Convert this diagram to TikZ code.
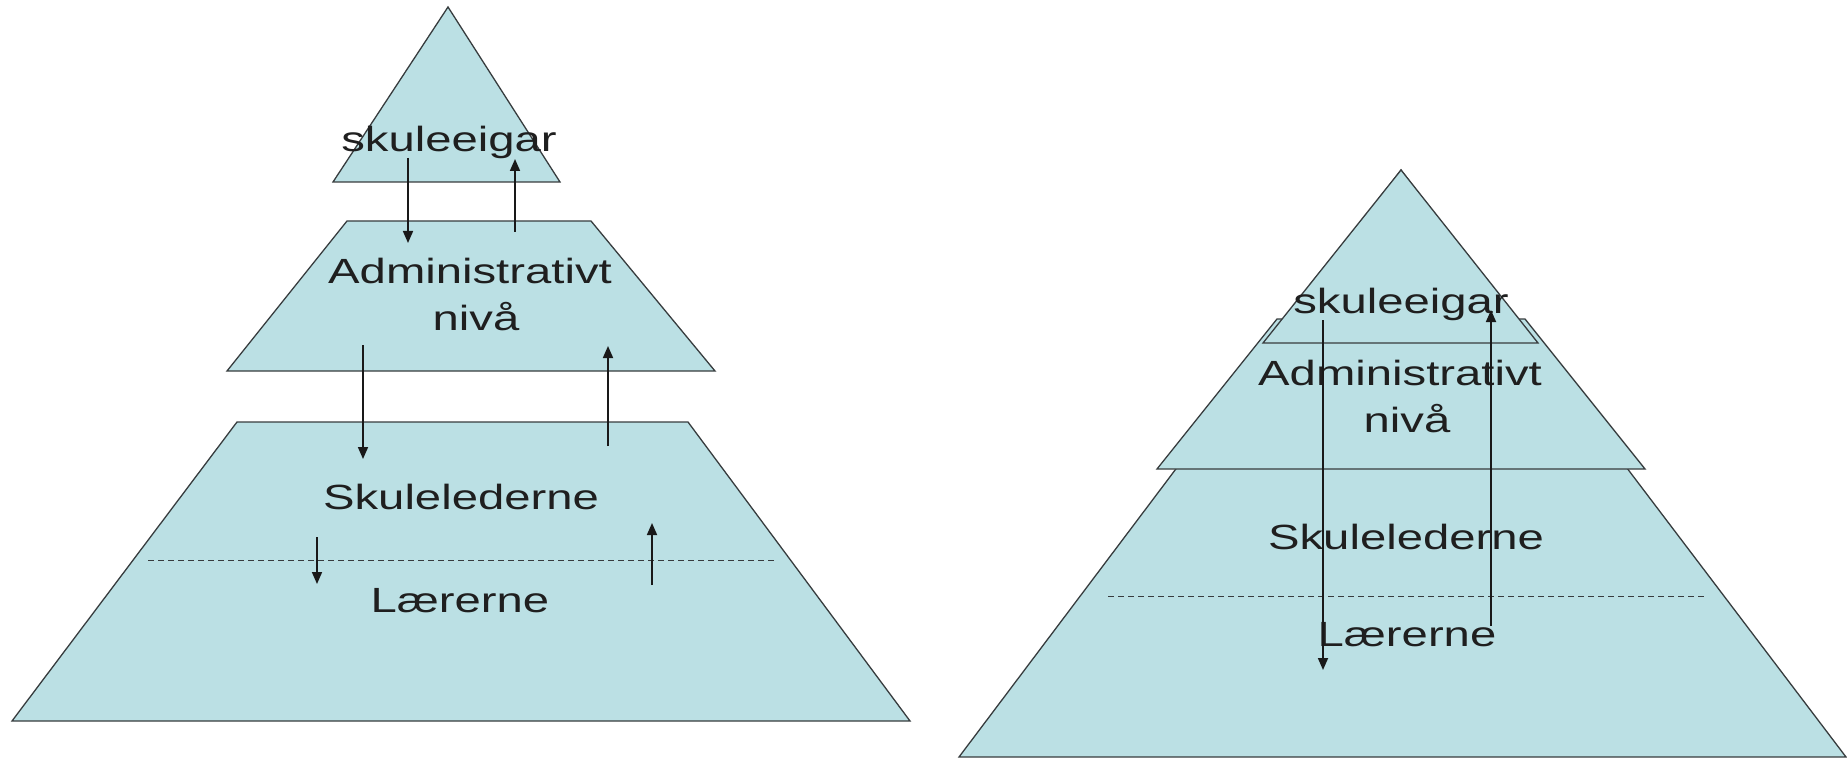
\documentclass[tikz,border=0pt]{standalone}
\usepackage{fontspec}
\setmainfont{Liberation Sans}
\newfontfamily\lbfont[FakeStretch=1.35]{Liberation Sans}
\usetikzlibrary{arrows.meta}
\definecolor{pyr}{RGB}{187,224,228}
\definecolor{edge}{RGB}{55,60,62}
\tikzset{
  pyrshape/.style={fill=pyr, draw=edge, line width=1.3pt, line join=miter},
  lbl/.style={font=\lbfont\fontsize{35}{47}\selectfont, anchor=base, inner sep=0pt, text=black!88},
  arr/.style={line width=1.7pt, draw=black!90, -{Triangle[width=10pt,length=12pt]}},
  divider/.style={draw=edge, line width=1pt, dash pattern=on 6pt off 4pt},
}
\begin{document}
\begin{tikzpicture}[x=1pt,y=1pt]
\useasboundingbox (0,0) rectangle (1847,-762);
% ---------- left pyramid ----------
\draw[pyrshape] (448,-7) -- (560,-182) -- (333,-182) -- cycle;
\draw[pyrshape] (347,-221) -- (591,-221) -- (715,-371) -- (227,-371) -- cycle;
\draw[pyrshape] (237,-422) -- (688,-422) -- (910,-721) -- (12,-721) -- cycle;
\draw[divider] (148,-560) -- (777,-560);
\node[lbl] (L1) at (449,-152) {skuleeigar};
\node[lbl] (L2a) at (470,-283) {Administrativt};
\node[lbl] (L2b) at (476,-330) {nivå};
\node[lbl] (L3) at (461,-509) {Skulelederne};
\node[lbl] (L4) at (460,-612) {Lærerne};
\coordinate (a1s) at (408,-158); \coordinate (a1e) at (408,-243);
\coordinate (a2s) at (515,-232); \coordinate (a2e) at (515,-159);
\coordinate (a3s) at (363,-345); \coordinate (a3e) at (363,-459);
\coordinate (a4s) at (608,-446); \coordinate (a4e) at (608,-346);
\coordinate (a5s) at (317,-537); \coordinate (a5e) at (317,-584);
\coordinate (a6s) at (652,-585); \coordinate (a6e) at (652,-523);
\draw[arr] (a1s) -- (a1e);
\draw[arr] (a2s) -- (a2e);
\draw[arr] (a3s) -- (a3e);
\draw[arr] (a4s) -- (a4e);
\draw[arr] (a5s) -- (a5e);
\draw[arr] (a6s) -- (a6e);
% ---------- right pyramid ----------
\draw[pyrshape] (1401,-170) -- (1846,-757) -- (959,-757) -- cycle;
\draw[pyrshape] (1277,-319) -- (1525,-319) -- (1645,-469) -- (1157,-469) -- cycle;
\draw[pyrshape] (1401,-170) -- (1538,-343) -- (1263,-343) -- cycle;
\draw[divider] (1108,-596) -- (1707,-596);
\node[lbl] (R1) at (1401,-313) {skuleeigar};
\node[lbl] (R2a) at (1400,-385) {Administrativt};
\node[lbl] (R2b) at (1407,-432) {nivå};
\node[lbl] (R3) at (1406,-549) {Skulelederne};
\node[lbl] (R4) at (1407,-646) {Lærerne};
\coordinate (b1s) at (1323,-320); \coordinate (b1e) at (1323,-670);
\coordinate (b2s) at (1491,-626); \coordinate (b2e) at (1491,-310);
\draw[arr] (b1s) -- (b1e);
\draw[arr] (b2s) -- (b2e);
\end{tikzpicture}
\end{document}
